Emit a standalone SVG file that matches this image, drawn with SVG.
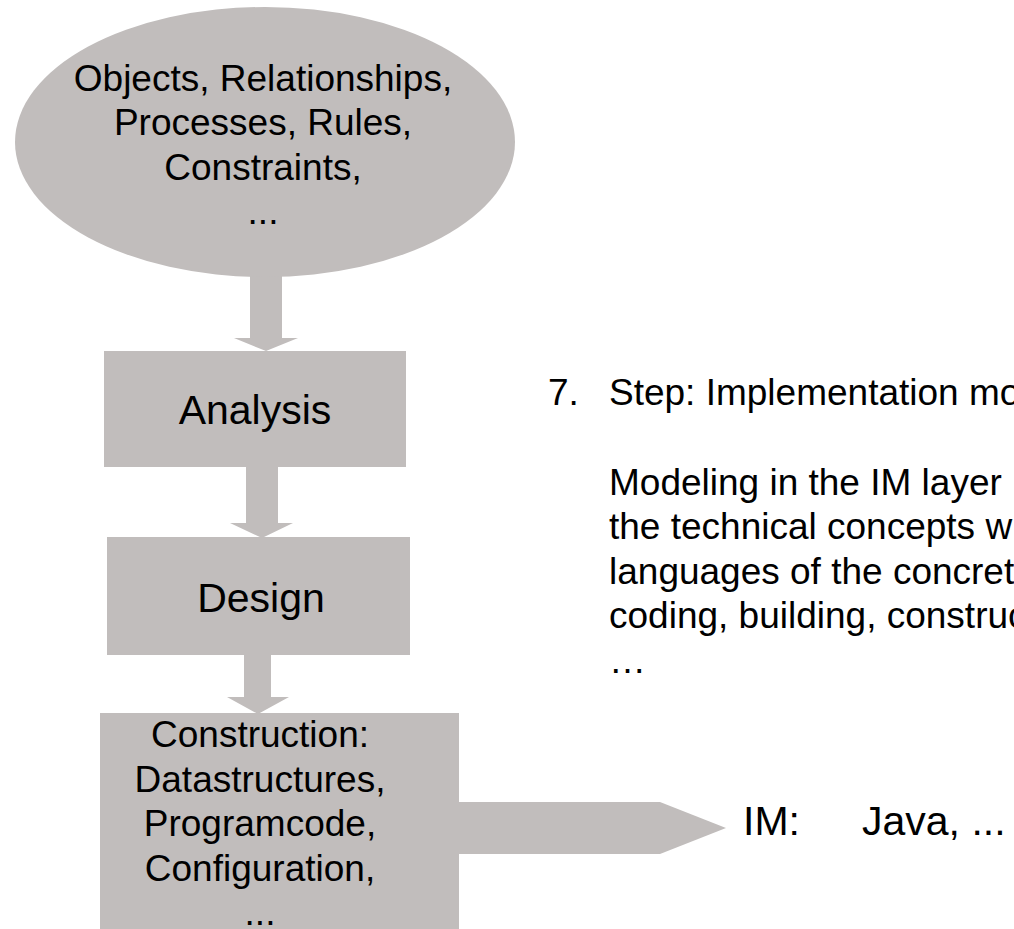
<svg xmlns="http://www.w3.org/2000/svg" width="1014" height="929" viewBox="0 0 1014 929">
  <style>
    .shape { fill: #c1bdbc; stroke: none; }
    text { font-family: "Liberation Sans", Arial, sans-serif; fill: #000; }
    .n37 { font-size: 37px; text-anchor: middle; }
    .n41 { font-size: 41px; text-anchor: middle; }
    .t37 { font-size: 37px; }
    .t41 { font-size: 41px; }
  </style>
  <rect x="0" y="0" width="1014" height="929" fill="#ffffff"/>
  <g id="connectors">
    <polygon class="shape" points="250,260 282,260 282,338 298,338 266,351 234,338 250,338"/>
    <polygon class="shape" points="246,466 278,466 278,523 293,523 262,538 230,523 246,523"/>
    <polygon class="shape" points="244,654 271,654 271,697 289,697 258,714 227,697 244,697"/>
    <polygon class="shape" points="458,802 660,802 726,828 660,854 458,854"/>
  </g>
  <g id="node-concepts">
    <ellipse class="shape" cx="265" cy="142" rx="250" ry="135"/>
    <text class="n37" x="263" y="91">Objects, Relationships,</text>
    <text class="n37" x="263" y="135">Processes, Rules,</text>
    <text class="n37" x="263" y="180">Constraints,</text>
    <text class="n37" x="263" y="224">...</text>
  </g>
  <g id="node-analysis">
    <rect class="shape" x="104" y="351" width="302" height="116"/>
    <text class="n41" x="255" y="424">Analysis</text>
  </g>
  <g id="node-design">
    <rect class="shape" x="107" y="537" width="303" height="118"/>
    <text class="n41" x="261" y="612">Design</text>
  </g>
  <g id="node-construction">
    <rect class="shape" x="100" y="713" width="359" height="216"/>
    <text class="n37" x="260" y="747">Construction:</text>
    <text class="n37" x="260" y="792">Datastructures,</text>
    <text class="n37" x="260" y="836">Programcode,</text>
    <text class="n37" x="260" y="881">Configuration,</text>
    <text class="n37" x="260" y="925">...</text>
  </g>
  <g id="node-im">
    <text class="t41" x="743" y="835">IM:</text>
    <text class="t41" x="862" y="835">Java, ...</text>
  </g>
  <g id="description">
    <text class="t37" x="548" y="405">7.</text>
    <text class="t37" x="609" y="405">Step: Implementation mo</text>
    <text class="t37" x="609" y="495">Modeling in the IM layer</text>
    <text class="t37" x="609" y="539">the technical concepts w</text>
    <text class="t37" x="609" y="584">languages of the concret</text>
    <text class="t37" x="609" y="628">coding, building, construc</text>
    <text class="t37" x="609" y="673">…</text>
  </g>
</svg>
